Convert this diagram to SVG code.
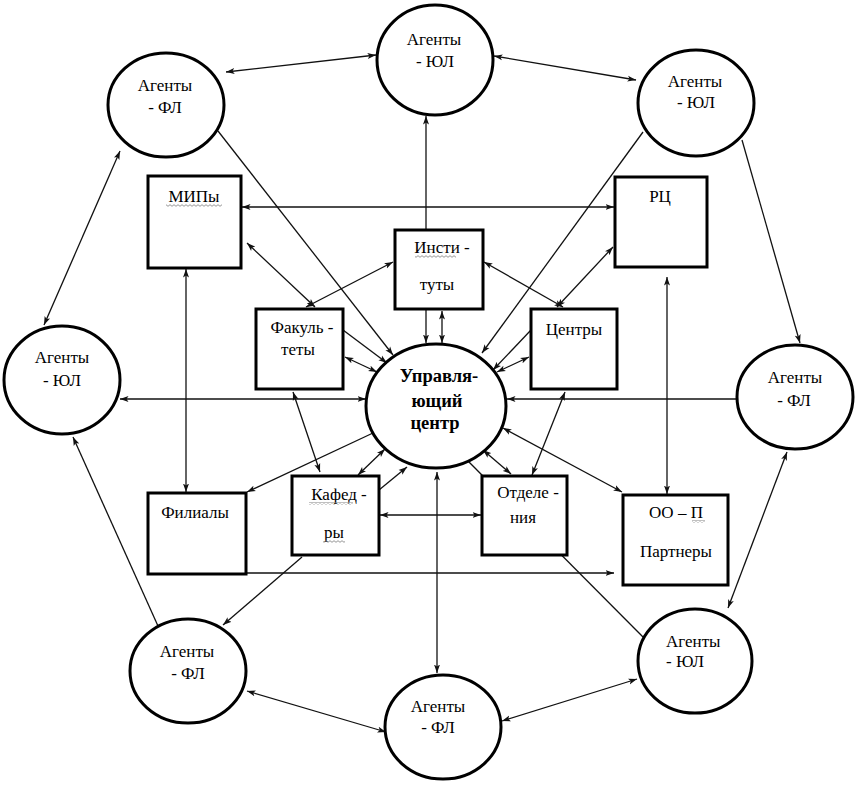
<svg xmlns="http://www.w3.org/2000/svg" width="861" height="786" viewBox="0 0 861 786">
<style>
  .node { fill: #fff; stroke: #000; stroke-width: 3; }
  .t { font-family: "Liberation Serif", "Tinos", "Times New Roman", "DejaVu Serif", serif; font-size: 17px; fill: #000; text-anchor: middle; }
  .tl { text-anchor: start; }
  .b { font-weight: bold; font-size: 18.5px; }
  .c { fill: none; stroke: #111; stroke-width: 1.3; }
  .both { marker-start: url(#ah); marker-end: url(#ah); }
  .end { marker-end: url(#ah); }
  .sq { fill: url(#wavy); }
</style>
<defs>
  <marker id="ah" markerUnits="userSpaceOnUse" markerWidth="9" markerHeight="7" refX="8.5" refY="3.5" orient="auto-start-reverse" viewBox="0 0 9 7">
    <path d="M0,0.5 L8.5,3.5 L0,6.5 L2,3.5 Z" fill="#111"/>
  </marker>
  <pattern id="wavy" patternUnits="userSpaceOnUse" width="4" height="3">
    <path d="M0,2.3 L2,0.7 L4,2.3" fill="none" stroke="#8a8a8a" stroke-width="0.9"/>
  </pattern>
</defs>
<rect width="861" height="786" fill="#fff"/>

<g id="connectors">
  <line class="c both" x1="226" y1="72" x2="376" y2="55"/>
  <line class="c both" x1="494" y1="56" x2="636" y2="80"/>
  <line class="c both" x1="120" y1="151" x2="44" y2="325"/>
  <line class="c end" x1="158" y1="626" x2="73" y2="437"/>
  <line class="c both" x1="247" y1="691" x2="386" y2="732"/>
  <line class="c both" x1="502" y1="721" x2="637" y2="679"/>
  <line class="c both" x1="728" y1="608" x2="787" y2="452"/>
  <line class="c end" x1="742" y1="140" x2="800" y2="343"/>
  <line class="c end" x1="737" y1="399" x2="507" y2="399"/>
  <line class="c both" x1="120" y1="399" x2="366" y2="399"/>
  <line class="c end" x1="426" y1="230" x2="426" y2="116"/>
  <line class="c end" x1="426" y1="309" x2="426" y2="343"/>
  <line class="c both" x1="442" y1="311" x2="442" y2="343"/>
  <line class="c both" x1="242" y1="207" x2="614" y2="207"/>
  <line class="c both" x1="186" y1="269" x2="186" y2="492"/>
  <line class="c both" x1="667" y1="277" x2="667" y2="494"/>
  <line class="c end" x1="246" y1="573" x2="614" y2="573"/>
  <line class="c both" x1="380" y1="515" x2="481" y2="515"/>
  <line class="c end" x1="218" y1="131" x2="393" y2="355"/>
  <line class="c both" x1="247" y1="243" x2="315" y2="307"/>
  <line class="c end" x1="343" y1="330" x2="387" y2="363"/>
  <line class="c both" x1="393" y1="262" x2="306" y2="307"/>
  <line class="c both" x1="345" y1="357" x2="377" y2="372"/>
  <line class="c both" x1="613" y1="247" x2="557" y2="307"/>
  <line class="c end" x1="531" y1="330" x2="493" y2="370"/>
  <line class="c both" x1="529" y1="357" x2="497" y2="372"/>
  <line class="c both" x1="484" y1="262" x2="563" y2="307"/>
  <line class="c end" x1="643" y1="132" x2="482" y2="353"/>
  <line class="c both" x1="293" y1="392" x2="320" y2="472"/>
  <line class="c both" x1="565" y1="392" x2="532" y2="475"/>
  <line class="c end" x1="373" y1="433" x2="247" y2="492"/>
  <line class="c both" x1="385" y1="449" x2="358" y2="475"/>
  <line class="c end" x1="379" y1="490" x2="407" y2="467"/>
  <line class="c end" x1="302" y1="557" x2="223" y2="625"/>
  <line class="c both" x1="437" y1="472" x2="437" y2="673"/>
  <line class="c both" x1="483" y1="450" x2="511" y2="474"/>
  <line class="c" x1="467" y1="460" x2="643" y2="637"/>
  <line class="c both" x1="503" y1="428" x2="622" y2="492"/>
</g>

<g id="agent-top-ul">
  <ellipse class="node" cx="435" cy="60" rx="58" ry="55"/>
  <text class="t" x="434" y="45">Агенты</text>
  <text class="t" x="435" y="67">- ЮЛ</text>
</g>
<g id="agent-tl-fl">
  <ellipse class="node" cx="166" cy="105" rx="58" ry="52"/>
  <text class="t" x="165" y="91">Агенты</text>
  <text class="t" x="165" y="113">- ФЛ</text>
</g>
<g id="agent-tr-ul">
  <ellipse class="node" cx="696" cy="103" rx="58" ry="53"/>
  <text class="t" x="695" y="87">Агенты</text>
  <text class="t" x="696" y="108">- ЮЛ</text>
</g>
<g id="agent-l-ul">
  <ellipse class="node" cx="62" cy="380" rx="58" ry="54"/>
  <text class="t" x="62" y="363">Агенты</text>
  <text class="t" x="62" y="386">- ЮЛ</text>
</g>
<g id="agent-r-fl">
  <ellipse class="node" cx="795" cy="397" rx="58" ry="52"/>
  <text class="t" x="795" y="383">Агенты</text>
  <text class="t" x="794" y="406">- ФЛ</text>
</g>
<g id="agent-bl-fl">
  <ellipse class="node" cx="188" cy="671" rx="58" ry="52"/>
  <text class="t" x="187" y="657">Агенты</text>
  <text class="t" x="188" y="679">- ФЛ</text>
</g>
<g id="agent-b-fl">
  <ellipse class="node" cx="443" cy="727" rx="58" ry="52"/>
  <text class="t" x="438" y="712">Агенты</text>
  <text class="t" x="438" y="733">- ФЛ</text>
</g>
<g id="agent-br-ul">
  <ellipse class="node" cx="695" cy="661" rx="57" ry="52"/>
  <text class="t tl" x="666" y="647">Агенты</text>
  <text class="t tl" x="666" y="667">- ЮЛ</text>
</g>
<g id="center">
  <ellipse class="node" cx="436" cy="406" rx="70" ry="62"/>
  <text class="t b" x="439" y="382">Управля-</text>
  <text class="t b" x="437" y="407">ющий</text>
  <text class="t b" x="435" y="429">центр</text>
</g>

<g id="mipy">
  <rect class="node" x="148" y="176" width="93" height="92"/>
  <text class="t" x="194" y="202">МИПы</text>
  <rect class="sq" x="166" y="204" width="56" height="3"/>
</g>
<g id="rc">
  <rect class="node" x="615" y="177" width="92" height="90"/>
  <text class="t" x="660" y="202">РЦ</text>
</g>
<g id="instituty">
  <rect class="node" x="395" y="230" width="88" height="79"/>
  <text class="t" x="442" y="253">Инсти -</text>
  <rect class="sq" x="415" y="255" width="41" height="3"/>
  <text class="t" x="437" y="290">туты</text>
</g>
<g id="fakultety">
  <rect class="node" x="256" y="309" width="87" height="80"/>
  <text class="t" x="302" y="333">Факуль -</text>
  <text class="t" x="298" y="355">теты</text>
</g>
<g id="centry">
  <rect class="node" x="531" y="309" width="86" height="80"/>
  <text class="t" x="574" y="335">Центры</text>
</g>
<g id="filialy">
  <rect class="node" x="148" y="493" width="98" height="81"/>
  <text class="t" x="195" y="518">Филиалы</text>
</g>
<g id="kafedry">
  <rect class="node" x="292" y="476" width="87" height="79"/>
  <text class="t" x="339" y="500">Кафед -</text>
  <rect class="sq" x="309" y="502" width="44" height="3"/>
  <text class="t" x="334" y="538">ры</text>
  <rect class="sq" x="323" y="540" width="22" height="3"/>
</g>
<g id="otdeleniya">
  <rect class="node" x="482" y="476" width="85" height="79"/>
  <text class="t" x="528" y="498">Отделе -</text>
  <text class="t" x="523" y="523">ния</text>
</g>
<g id="oo-partnery">
  <rect class="node" x="623" y="495" width="105" height="90"/>
  <text class="t" x="676" y="518">ОО – П</text>
  <rect class="sq" x="692" y="520" width="13" height="3"/>
  <text class="t" x="676" y="557">Партнеры</text>
</g>
</svg>
